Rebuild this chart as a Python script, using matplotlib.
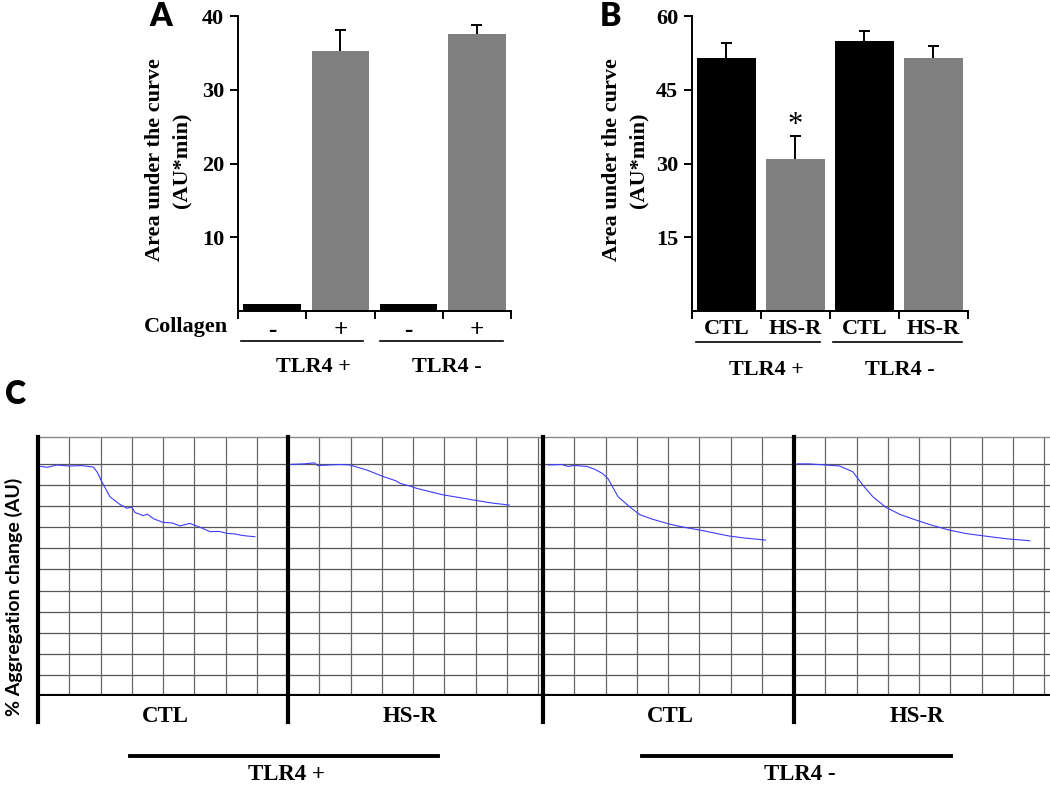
import numpy as np
import matplotlib.pyplot as plt
from matplotlib.lines import Line2D

## data
# panel A: collagen -/+ for TLR4+ and TLR4-
a_labels = ["-", "+", "-", "+"]
a_values = [0.9, 35.2, 0.9, 37.5]
a_errors = [0.0, 2.9, 0.0, 1.3]
a_colors = ["black", "#808080", "black", "#808080"]

# panel B: CTL / HS-R for TLR4+ and TLR4-
b_labels = ["CTL", "HS-R", "CTL", "HS-R"]
b_values = [51.5, 30.9, 54.9, 51.5]
b_errors = [3.1, 4.6, 2.0, 2.5]
b_colors = ["black", "#808080", "black", "#808080"]

# panel C: aggregation traces (x in grid columns, y in grid rows)
c_labels = ["CTL", "HS-R", "CTL", "HS-R"]
trace_ctl_pos_x = [0.09, 0.3, 0.6, 1.0, 1.4, 1.77, 1.9, 2.04, 2.3, 2.6, 2.84, 3.0, 3.1, 3.37, 3.5, 3.7, 4.0, 4.3,
                   4.54, 4.86, 5.18, 5.5, 5.8, 6.04, 6.3, 6.5, 6.7, 6.94]
trace_ctl_pos_y = [10.88, 10.84, 10.95, 10.9, 10.92, 10.85, 10.6, 10.16, 9.45, 9.1, 8.9, 8.95, 8.7, 8.55, 8.62, 8.4, 8.23, 8.2,
                   8.06, 8.18, 8.0, 7.79, 7.8, 7.71, 7.68, 7.62, 7.58, 7.55]
trace_hsr_pos_x = [0.09, 0.5, 0.85, 0.95, 1.3, 1.7, 1.98, 2.52, 3.05, 3.45, 3.58, 3.9, 4.12, 4.5, 4.97, 5.5, 5.93, 6.5, 7.08]
trace_hsr_pos_y = [10.98, 11.0, 11.05, 10.92, 10.95, 10.97, 10.95, 10.71, 10.4, 10.2, 10.08, 9.95, 9.84, 9.7, 9.53, 9.4, 9.29, 9.15, 9.05]
trace_ctl_neg_x = [0.17, 0.6, 0.8, 1.0, 1.4, 1.66, 1.9, 2.08, 2.4, 2.77, 3.09, 3.5, 4.04, 4.5, 5.0, 5.5, 5.96, 6.5, 7.12]
trace_ctl_neg_y = [10.95, 10.97, 10.88, 10.93, 10.88, 10.74, 10.55, 10.3, 9.45, 8.97, 8.6, 8.38, 8.15, 8.0, 7.87, 7.72, 7.58, 7.48, 7.39]
trace_hsr_neg_x = [0.1, 0.5, 1.0, 1.46, 1.88, 2.2, 2.52, 2.94, 3.4, 3.9, 4.4, 4.95, 5.5, 6.11, 6.8, 7.54]
trace_hsr_neg_y = [11.0, 11.0, 10.95, 10.9, 10.63, 10.0, 9.45, 8.94, 8.6, 8.34, 8.1, 7.87, 7.7, 7.58, 7.45, 7.36]

W, H = 1050, 785
fig = plt.figure(figsize=(W / 100, H / 100), dpi=100)

serif = "Liberation Serif"
sans = "Lato"


def fx(x):
    return x / W


def fy(y):
    return 1 - y / H


def ftext(x, y, s, **kw):
    kw.setdefault("family", serif)
    kw.setdefault("weight", "bold")
    kw.setdefault("ha", "center")
    kw.setdefault("va", "center")
    fig.text(fx(x), fy(y), s, **kw)


def fline(x0, x1, y, lw=1.2):
    fig.add_artist(Line2D([fx(x0), fx(x1)], [fy(y), fy(y)], color="black", lw=lw,
                          transform=fig.transFigure))


def bar_panel(left, right, values, errors, colors, labels, ymax, yticks, width):
    ax = fig.add_axes([fx(left), fy(311), fx(right - left), (311 - 16) / H])
    x = np.arange(len(values))
    ax.bar(x, values, width=width, color=colors, zorder=2)
    vals = np.array(values)
    errs = np.array(errors)
    m = errs > 0
    # upper error bars only
    ax.vlines(x[m], vals[m], vals[m] + errs[m], color="black", lw=1.4, zorder=1)
    ax.hlines(vals[m] + errs[m], x[m] - 0.08, x[m] + 0.08, color="black", lw=1.4, zorder=1)
    ax.set_xlim(-0.5, len(values) - 0.5)
    ax.set_ylim(0, ymax)
    ax.set_yticks(yticks)
    ax.set_yticklabels([str(t) for t in yticks], family=serif, weight="bold", fontsize=16)
    ax.set_xticks(x)
    ax.set_xticklabels(labels, family=serif, weight="bold", fontsize=16)
    ax.set_xticks(np.arange(-0.5, len(values), 1.0), minor=True)
    ax.tick_params(axis="x", which="major", length=0, pad=6)
    ax.tick_params(axis="x", which="minor", length=6, width=1.4)
    ax.tick_params(axis="y", length=6, width=1.4, pad=4)
    for s in ["top", "right"]:
        ax.spines[s].set_visible(False)
    for s in ["left", "bottom"]:
        ax.spines[s].set_linewidth(1.4)
    return ax


## panel A
axA = bar_panel(238, 511, a_values, a_errors, a_colors, a_labels, 40, [10, 20, 30, 40], 0.84)
for lab in axA.get_xticklabels():
    lab.set_fontsize(18)
ftext(228, 327, "Collagen", ha="right", fontsize=16)
fline(241, 363, 341)
fline(380, 503, 341)
ftext(313, 367, "TLR4 +", fontsize=16)
ftext(447, 367, "TLR4 -", fontsize=16)
ftext(168, 160, "Area under the curve\n(AU*min)", rotation=90, fontsize=16, linespacing=1.4)
ftext(161, 17, "A", family=sans, weight="heavy", fontsize=23)

## panel B
axB = bar_panel(692, 968, b_values, b_errors, b_colors, b_labels, 60, [15, 30, 45, 60], 0.86)
axB.text(1, b_values[1] + b_errors[1] - 0.7, "*", ha="center", va="bottom",
         family=serif, fontsize=22)
fline(696, 820, 342)
fline(833, 962, 342)
ftext(766, 370, "TLR4 +", fontsize=16)
ftext(900, 370, "TLR4 -", fontsize=16)
ftext(625, 160, "Area under the curve\n(AU*min)", rotation=90, fontsize=16, linespacing=1.4)
ftext(610, 16, "B", family=sans, weight="heavy", fontsize=23)

## panel C
row_h = 21.1
col_w = 31.25
axC = fig.add_axes([fx(38), fy(696), fx(W - 38), (696 - 437) / H])
ytop = (696 - 437) / row_h
axC.set_ylim(0, ytop)
xmax = (W - 38) / col_w
axC.set_xlim(0, xmax)
offsets = [0, 8, (543 - 38) / col_w, (794 - 38) / col_w]
traces = [(trace_ctl_pos_x, trace_ctl_pos_y), (trace_hsr_pos_x, trace_hsr_pos_y),
          (trace_ctl_neg_x, trace_ctl_neg_y), (trace_hsr_neg_x, trace_hsr_neg_y)]
for k in range(1, 12):
    axC.axhline(k, color="#555555", lw=0.9, zorder=1)
for off in offsets:
    for k in range(1, 9):
        if off + k < xmax:
            axC.axvline(off + k, color="#666666", lw=0.9, zorder=1)
for off, (tx, ty) in zip(offsets, traces):
    axC.plot(np.array(tx) + off, ty, color="#3c3cff", lw=0.8, zorder=3)
    axC.plot([off, off], [-1.23, ytop], color="black", lw=3, clip_on=False, zorder=4)
axC.axhline(0, color="black", lw=3, zorder=4)
axC.set_xticks([])
axC.set_yticks([])
for s in ["left", "right", "bottom"]:
    axC.spines[s].set_visible(False)
axC.spines["top"].set_color("#888888")
axC.spines["top"].set_linewidth(1.0)

for xc, lab in zip([165, 410, 670, 917], c_labels):
    ftext(xc, 717, lab, fontsize=16.5)
fline(130, 438, 756, lw=2.8)
fline(642, 951, 756, lw=2.8)
ftext(287, 774, "TLR4 +", fontsize=16.5)
ftext(800, 774, "TLR4 -", fontsize=16.5)
ftext(14, 597, "% Aggregation change (AU)", family=sans, rotation=90, fontsize=14)
ftext(15, 394, "C", family=sans, weight="heavy", fontsize=23)

fig.savefig("out.png", dpi=100)
